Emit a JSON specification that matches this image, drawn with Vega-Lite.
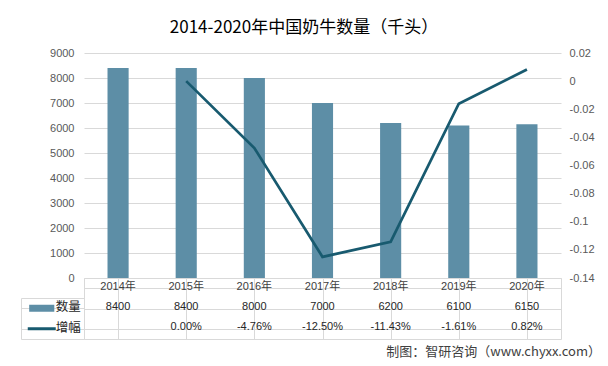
{
  "$schema": "https://vega.github.io/schema/vega-lite/v6.json",
  "padding": {"left": 20, "top": 19, "right": 8, "bottom": 6},
  "title": {"text": "2014-2020年中国奶牛数量（千头）", "fontSize": 17, "font": "Noto Sans CJK SC", "fontWeight": "normal", "color": "#000000", "anchor": "middle", "offset": 10, "dx": -7},
  "config": {
    "locale": {"number": {"decimal": ".", "thousands": ",", "grouping": [3], "currency": ["$", ""], "minus": "-"}},
    "view": {"stroke": null}
  },
  "datasets": {
    "main": [
      {"年份": "2014年", "数量": 8400, "增幅": null},
      {"年份": "2015年", "数量": 8400, "增幅": 0},
      {"年份": "2016年", "数量": 8000, "增幅": -0.0476},
      {"年份": "2017年", "数量": 7000, "增幅": -0.125},
      {"年份": "2018年", "数量": 6200, "增幅": -0.1143},
      {"年份": "2019年", "数量": 6100, "增幅": -0.0161},
      {"年份": "2020年", "数量": 6150, "增幅": 0.0082}
    ],
    "series": [{"系列": "数量"}, {"系列": "增幅"}]
  },
  "columns": 2,
  "spacing": 0,
  "bounds": "flush",
  "align": "each",
  "concat": [
    {"width": 63, "height": 225, "data": {"values": []}, "mark": "text", "encoding": {}},
    {
      "width": 477, "height": 225,
      "data": {"name": "main"},
      "layer": [
        {
          "mark": {"type": "bar", "width": {"band": 0.31}, "color": "#5d8ea6"},
          "encoding": {
            "x": {"field": "年份", "type": "ordinal", "scale": {"paddingInner": 0, "paddingOuter": 0}, "axis": null},
            "y": {"field": "数量", "type": "quantitative", "scale": {"domain": [0, 9000], "nice": false},
              "axis": {"values": [0, 1000, 2000, 3000, 4000, 5000, 6000, 7000, 8000, 9000], "title": null, "domain": false, "ticks": false, "grid": true, "gridColor": "#d9d9d9", "labelColor": "#595959", "labelFontSize": 11, "labelFont": "Liberation Sans", "labelPadding": 10, "format": "d"}}
          }
        },
        {
          "mark": {"type": "line", "color": "#185a6f", "strokeWidth": 2.75},
          "encoding": {
            "x": {"field": "年份", "type": "ordinal"},
            "y": {"field": "增幅", "type": "quantitative", "scale": {"domain": [-0.14, 0.02], "nice": false, "zero": false},
              "axis": {"orient": "right", "values": [-0.14, -0.12, -0.1, -0.08, -0.06, -0.04, -0.02, 0, 0.02], "labelExpr": "datum.value == 0 ? '0' : toString(round(datum.value * 100) / 100)", "title": null, "domain": false, "ticks": false, "grid": false, "labelColor": "#595959", "labelFontSize": 11, "labelFont": "Liberation Sans", "labelPadding": 8}}
          }
        }
      ],
      "resolve": {"scale": {"y": "independent"}}
    },
    {
      "vconcat": [
        {"width": 63, "height": 20, "data": {"values": []}, "mark": "text", "encoding": {}},
        {
          "width": 63, "height": 41,
          "data": {"name": "series"},
          "view": {"stroke": "#d9d9d9"},
          "encoding": {
            "y": {"field": "系列", "type": "nominal", "scale": {"domain": ["数量", "增幅"], "paddingInner": 0, "paddingOuter": 0},
              "axis": {"bandPosition": 0, "grid": true, "gridColor": "#d9d9d9", "labels": false, "ticks": false, "domain": false, "title": null}}
          },
          "layer": [
            {
              "mark": {"type": "point", "filled": true, "strokeWidth": 3, "opacity": 1, "xOffset": 5},
              "encoding": {
                "x": {"datum": "s", "type": "nominal", "scale": {"domain": ["s", "l"], "paddingInner": 0, "paddingOuter": 0}, "axis": null},
                "shape": {"field": "系列", "type": "nominal", "scale": {"domain": ["数量", "增幅"], "range": ["M-0.79,-0.14H0.79V0.14H-0.79Z", "M-1,0H1"]}, "legend": null},
                "fill": {"field": "系列", "type": "nominal", "scale": {"domain": ["数量", "增幅"], "range": ["#5d8ea6", "#185a6f"]}, "legend": null},
                "stroke": {"field": "系列", "type": "nominal", "scale": {"domain": ["数量", "增幅"], "range": ["#5d8ea6", "#185a6f"]}, "legend": null},
                "size": {"value": 784}
              }
            },
            {
              "mark": {"type": "text", "fontSize": 12.5, "font": "Noto Sans CJK SC", "color": "#262626", "dy": -1},
              "encoding": {
                "x": {"datum": "l", "type": "nominal"},
                "text": {"field": "系列"}
              }
            }
          ]
        }
      ],
      "spacing": 0,
      "bounds": "flush"
    },
    {
      "width": 477, "height": 61,
      "data": {"name": "main"},
      "view": {"stroke": "#d9d9d9"},
      "title": {"text": "制图：智研咨询（www.chyxx.com）", "orient": "bottom", "anchor": "end", "dx": 40, "offset": 7, "fontSize": 13, "font": "Noto Sans CJK SC", "fontWeight": "normal", "color": "#404040"},
      "encoding": {
        "x": {"field": "年份", "type": "ordinal", "scale": {"paddingInner": 0, "paddingOuter": 0},
          "axis": {"bandPosition": 0, "grid": true, "gridColor": "#d9d9d9", "labels": false, "ticks": false, "domain": false, "title": null}}
      },
      "layer": [
        {
          "mark": {"type": "text", "fontSize": 11, "font": "Liberation Sans, Noto Sans CJK SC", "color": "#404040", "dy": -1},
          "encoding": {
            "y": {"datum": "年份", "type": "nominal", "scale": {"domain": ["年份", "数量", "增幅"], "paddingInner": 0, "paddingOuter": 0},
              "axis": {"bandPosition": 0, "grid": true, "gridColor": "#d9d9d9", "labels": false, "ticks": false, "domain": false, "title": null}},
            "text": {"field": "年份"}
          }
        },
        {
          "mark": {"type": "text", "fontSize": 11, "font": "Liberation Sans, Noto Sans CJK SC", "color": "#262626", "dy": -2},
          "encoding": {
            "y": {"datum": "数量", "type": "nominal"},
            "text": {"field": "数量", "type": "quantitative", "format": "d"}
          }
        },
        {
          "transform": [{"filter": "isValid(datum['增幅'])"}],
          "mark": {"type": "text", "fontSize": 11, "font": "Liberation Sans, Noto Sans CJK SC", "color": "#262626", "dy": -2},
          "encoding": {
            "y": {"datum": "增幅", "type": "nominal"},
            "text": {"field": "增幅", "type": "quantitative", "format": ".2%"}
          }
        }
      ]
    }
  ]
}
